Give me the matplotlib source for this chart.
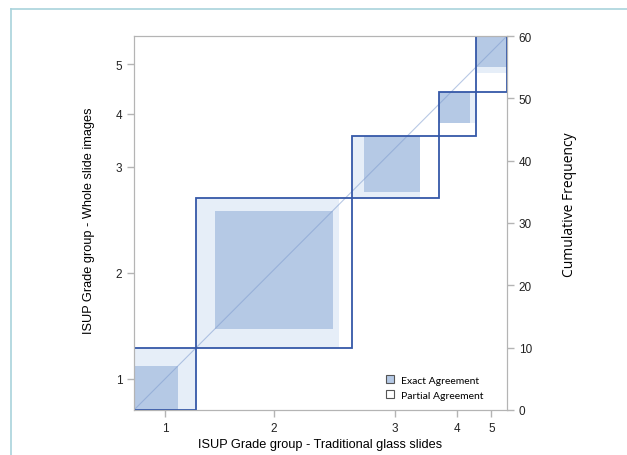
import numpy as np
import matplotlib
matplotlib.use("Agg")
import matplotlib.pyplot as plt
from matplotlib.patches import Rectangle, Patch
from matplotlib.lines import Line2D

# agreement table: rows = whole slide images grade, cols = traditional glass slides grade
grades = ["1", "2", "3", "4", "5"]
counts = np.array([
	[7, 3, 0, 0, 0],
	[3, 19, 2, 0, 0],
	[0, 1, 9, 0, 0],
	[0, 2, 0, 5, 0],
	[0, 0, 3, 1, 5],
])

exact_col = "#b5c9e5"
partial_col = "#e6eef8"
box_col = "#3558a8"
grey = "#b4b4b4"


def main():
	n = counts.shape[0]
	col_tot = counts.sum(axis=0)
	row_tot = counts.sum(axis=1)
	total = counts.sum()
	X = np.concatenate([[0], np.cumsum(col_tot)])
	Y = np.concatenate([[0], np.cumsum(row_tot)])

	fig = plt.figure(figsize=(6.27, 4.56), dpi=100)
	# teal frame of the page
	fig.add_artist(Line2D([11/627, 11/627], [0, 1-10/456], color="#a9d3dc", lw=1.2))
	fig.add_artist(Line2D([11/627, 1], [1-10/456, 1-10/456], color="#a9d3dc", lw=1.2))

	ax = fig.add_axes([134/627, 1-411/456, 373/627, 374/456])
	ax.set_xlim(0, total)
	ax.set_ylim(0, total)

	for i in range(n):
		x0, y0 = X[i], Y[i]
		lo, hi = max(i-1, 0), min(i+1, n-1)
		# partial agreement
		px = x0 + counts[:lo, i].sum()
		pw = counts[lo:hi+1, i].sum()
		py = y0 + counts[i, :lo].sum()
		ph = counts[i, lo:hi+1].sum()
		ax.add_patch(Rectangle((px, py), pw, ph, facecolor=partial_col, edgecolor="none", zorder=1))
		# exact agreement
		dx = x0 + counts[:i, i].sum()
		dy = y0 + counts[i, :i].sum()
		ax.add_patch(Rectangle((dx, dy), counts[i, i], counts[i, i], facecolor=exact_col, edgecolor="none", zorder=2))

	ax.plot([0, total], [0, total], color="#7f9ccf", lw=0.8, alpha=0.55, zorder=3)

	for i in range(n):
		ax.add_patch(Rectangle((X[i], Y[i]), col_tot[i], row_tot[i], facecolor="none",
			edgecolor=box_col, lw=1.3, zorder=4))

	ax.set_xticks((X[:-1] + X[1:]) / 2)
	ax.set_xticklabels(grades, family="Liberation Sans")
	ax.set_yticks((Y[:-1] + Y[1:]) / 2)
	ax.set_yticklabels(grades, family="Liberation Sans")
	for s in ax.spines.values():
		s.set_color(grey)
	ax.tick_params(colors=grey, labelcolor="#222222", labelsize=8.5, length=5, width=1)
	ax.set_xlabel("ISUP Grade group - Traditional glass slides", fontsize=9.2,
		family="Liberation Sans")
	ax.xaxis.set_label_coords(0.5, -0.076)
	ax.set_ylabel("ISUP Grade group - Whole slide images", fontsize=9.2,
		family="Liberation Sans")
	ax.yaxis.set_label_coords(-0.105, 0.508)

	ax2 = ax.twinx()
	ax2.set_ylim(0, total)
	ax2.set_yticks(np.arange(0, total + 1, 10))
	ax2.set_yticklabels([str(v) for v in range(0, total + 1, 10)], family="Liberation Sans")
	for s in ax2.spines.values():
		s.set_color(grey)
	ax2.tick_params(colors=grey, labelcolor="#222222", labelsize=8.5, length=5, width=1)
	ax2.set_ylabel("Cumulative Frequency", fontsize=10, family="Open Sans")
	ax2.yaxis.set_label_coords(1.147, 0.551)

	handles = [Patch(facecolor=exact_col, edgecolor="#555555", lw=0.8, label="Exact Agreement"),
		Patch(facecolor="white", edgecolor="#555555", lw=0.8, label="Partial Agreement")]
	ax.legend(handles=handles, loc="lower left", bbox_to_anchor=(0.676, 0.027), frameon=False,
		prop={"family": "Lato", "size": 7.5}, handlelength=0.8, handleheight=0.8,
		handletextpad=0.6, labelspacing=0.5, borderpad=0, borderaxespad=0)

	fig.savefig("out.png", dpi=100)


if __name__ == "__main__":
	main()
